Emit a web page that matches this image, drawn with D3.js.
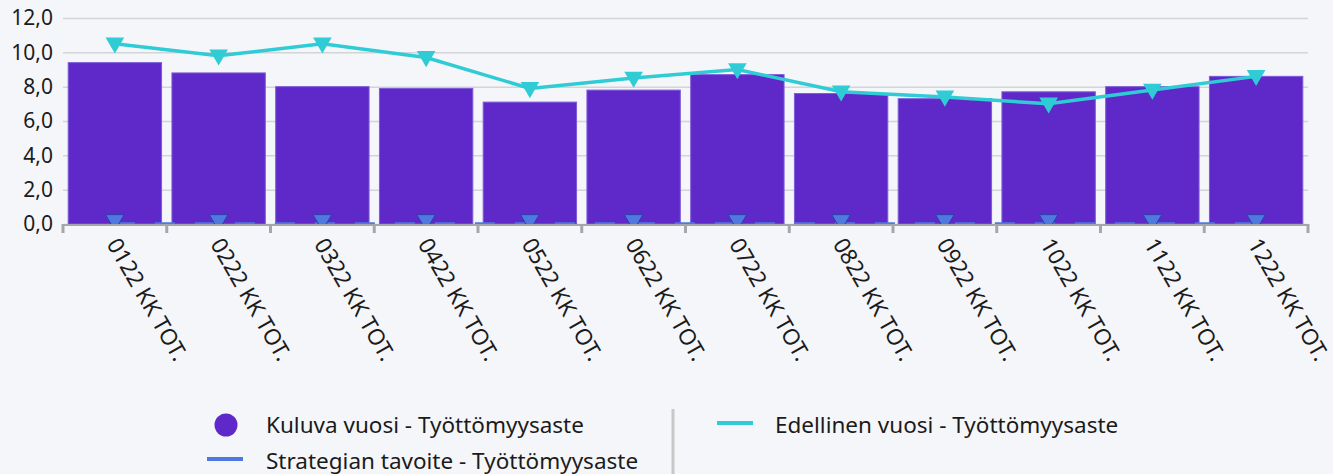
<!DOCTYPE html>
<html>
<head>
<meta charset="utf-8">
<script src="https://cdn.jsdelivr.net/npm/d3@7"></script>
<style>
  html, body { margin: 0; padding: 0; background: #ffffff; }
  svg { display: block; }
  text { font-family: "Segoe UI", "Noto Sans", sans-serif; fill: #1b1b1b; }
</style>
</head>
<body>
<svg id="chart" width="1343" height="474"></svg>
<script>
const categories = ["0122 KK TOT.", "0222 KK TOT.", "0322 KK TOT.", "0422 KK TOT.", "0522 KK TOT.", "0622 KK TOT.",
                    "0722 KK TOT.", "0822 KK TOT.", "0922 KK TOT.", "1022 KK TOT.", "1122 KK TOT.", "1222 KK TOT."];
const kuluvaVuosi = [9.4, 8.8, 8.0, 7.9, 7.1, 7.8, 8.7, 7.6, 7.3, 7.7, 8.0, 8.6];
const edellinenVuosi = [10.5, 9.8, 10.5, 9.7, 7.9, 8.5, 9.0, 7.7, 7.4, 7.0, 7.8, 8.6];
const strategianTavoite = [0, 0, 0, 0, 0, 0, 0, 0, 0, 0, 0, 0];
const yTicks = [0, 2, 4, 6, 8, 10, 12];
const seriesNames = ["Kuluva vuosi - Työttömyysaste", "Strategian tavoite - Työttömyysaste", "Edellinen vuosi - Työttömyysaste"];

const colors = { bar: "#5f29c9", barStroke: "#7d5bd8", line: "#2fccd6", target: "#4f78e0", targetStroke: "#2d3fa8" };

const svg = d3.select("#chart");
svg.append("rect").attr("x", 0).attr("y", 0).attr("width", 1333).attr("height", 474).attr("fill", "#f5f6fa");

const plot = { left: 63, right: 1308, top: 18, bottom: 224 };

const x = d3.scaleBand().domain(categories).range([plot.left, plot.right]).paddingInner(0.1).paddingOuter(0.05);
const y = d3.scaleLinear().domain([0, 12]).range([plot.bottom, plot.top]);
const fmt = v => d3.format(".1f")(v).replace(".", ",");

// gridlines
const yAxis = d3.axisLeft(y).tickValues(yTicks).tickFormat(fmt).tickSize(plot.left - plot.right).tickPadding(8);
const gy = svg.append("g").attr("transform", `translate(${plot.left},0)`).call(yAxis);
gy.select(".domain").remove();
gy.selectAll(".tick line").attr("stroke", "#d3d4d8").attr("stroke-width", 1.5);
gy.selectAll(".tick text").attr("font-size", 21).attr("x", -10).attr("fill", "#1b1b1b");

svg.append("defs").append("clipPath").attr("id", "plotclip")
  .append("rect").attr("x", plot.left - 10).attr("y", 0).attr("width", plot.right - plot.left + 20).attr("height", plot.bottom + 1);

// bars
svg.append("g").selectAll("rect").data(categories).join("rect")
  .attr("x", d => x(d))
  .attr("y", (d, i) => y(kuluvaVuosi[i]))
  .attr("width", x.bandwidth())
  .attr("height", (d, i) => y(0) - y(kuluvaVuosi[i]))
  .attr("fill", colors.bar)
  .attr("stroke", colors.barStroke)
  .attr("stroke-width", 1);

const cx = d => x(d) + x.bandwidth() / 2;
const tri = d3.symbol().type(d3.symbolTriangle).size(150);

// target line (clipped at axis)
const gt = svg.append("g").attr("clip-path", "url(#plotclip)");
gt.append("path")
  .attr("d", d3.line().x((d, i) => cx(categories[i])).y(d => y(d))(strategianTavoite))
  .attr("fill", "none").attr("stroke", colors.target).attr("stroke-width", 3.5)
  .attr("stroke-dasharray", "20,20");
gt.selectAll("path.tm").data(strategianTavoite).join("path").attr("class", "tm")
  .attr("d", tri)
  .attr("transform", (d, i) => `translate(${cx(categories[i])},${y(d) - 4}) rotate(180)`)
  .attr("fill", colors.target).attr("stroke", colors.targetStroke).attr("stroke-width", 1);

// x axis
const xAxisScale = d3.scalePoint().domain(d3.range(categories.length + 1)).range([plot.left, plot.right]);
const gx = svg.append("g");
gx.append("line").attr("x1", plot.left).attr("x2", plot.right).attr("y1", plot.bottom + 1).attr("y2", plot.bottom + 1)
  .attr("stroke", "#a3a6aa").attr("stroke-width", 2);
gx.selectAll("line.tk").data(xAxisScale.domain()).join("line").attr("class", "tk")
  .attr("x1", d => xAxisScale(d)).attr("x2", d => xAxisScale(d))
  .attr("y1", plot.bottom).attr("y2", plot.bottom + 9)
  .attr("stroke", "#a3a6aa").attr("stroke-width", 3);
gx.selectAll("text").data(categories).join("text")
  .attr("transform", d => `translate(${cx(d) - 2},${plot.bottom + 16}) rotate(60)`)
  .attr("dy", "0.35em")
  .attr("text-anchor", "start")
  .attr("font-size", 22.5)
  .text(d => d);

// previous year line
svg.append("path")
  .attr("d", d3.line().x((d, i) => cx(categories[i])).y(d => y(d))(edellinenVuosi))
  .attr("fill", "none").attr("stroke", colors.line).attr("stroke-width", 3.5);
svg.append("g").selectAll("path").data(edellinenVuosi).join("path")
  .attr("d", tri)
  .attr("transform", (d, i) => `translate(${cx(categories[i])},${y(d) - 1}) rotate(180)`)
  .attr("fill", colors.line);

// legend
const lg = svg.append("g");
lg.append("circle").attr("cx", 226).attr("cy", 425).attr("r", 11.5).attr("fill", colors.bar);
lg.append("text").attr("x", 266).attr("y", 425).attr("dy", "0.35em").attr("font-size", 22.5).text(seriesNames[0]);
lg.append("line").attr("x1", 207).attr("x2", 243).attr("y1", 459).attr("y2", 459).attr("stroke", colors.target).attr("stroke-width", 4);
lg.append("text").attr("x", 266).attr("y", 461).attr("dy", "0.35em").attr("font-size", 22.5).text(seriesNames[1]);
lg.append("line").attr("x1", 673).attr("x2", 673).attr("y1", 409).attr("y2", 474).attr("stroke", "#c8c8c8").attr("stroke-width", 3);
lg.append("line").attr("x1", 717).attr("x2", 753).attr("y1", 423).attr("y2", 423).attr("stroke", colors.line).attr("stroke-width", 4);
lg.append("text").attr("x", 775).attr("y", 425).attr("dy", "0.35em").attr("font-size", 22.5).text(seriesNames[2]);
</script>
</body>
</html>
